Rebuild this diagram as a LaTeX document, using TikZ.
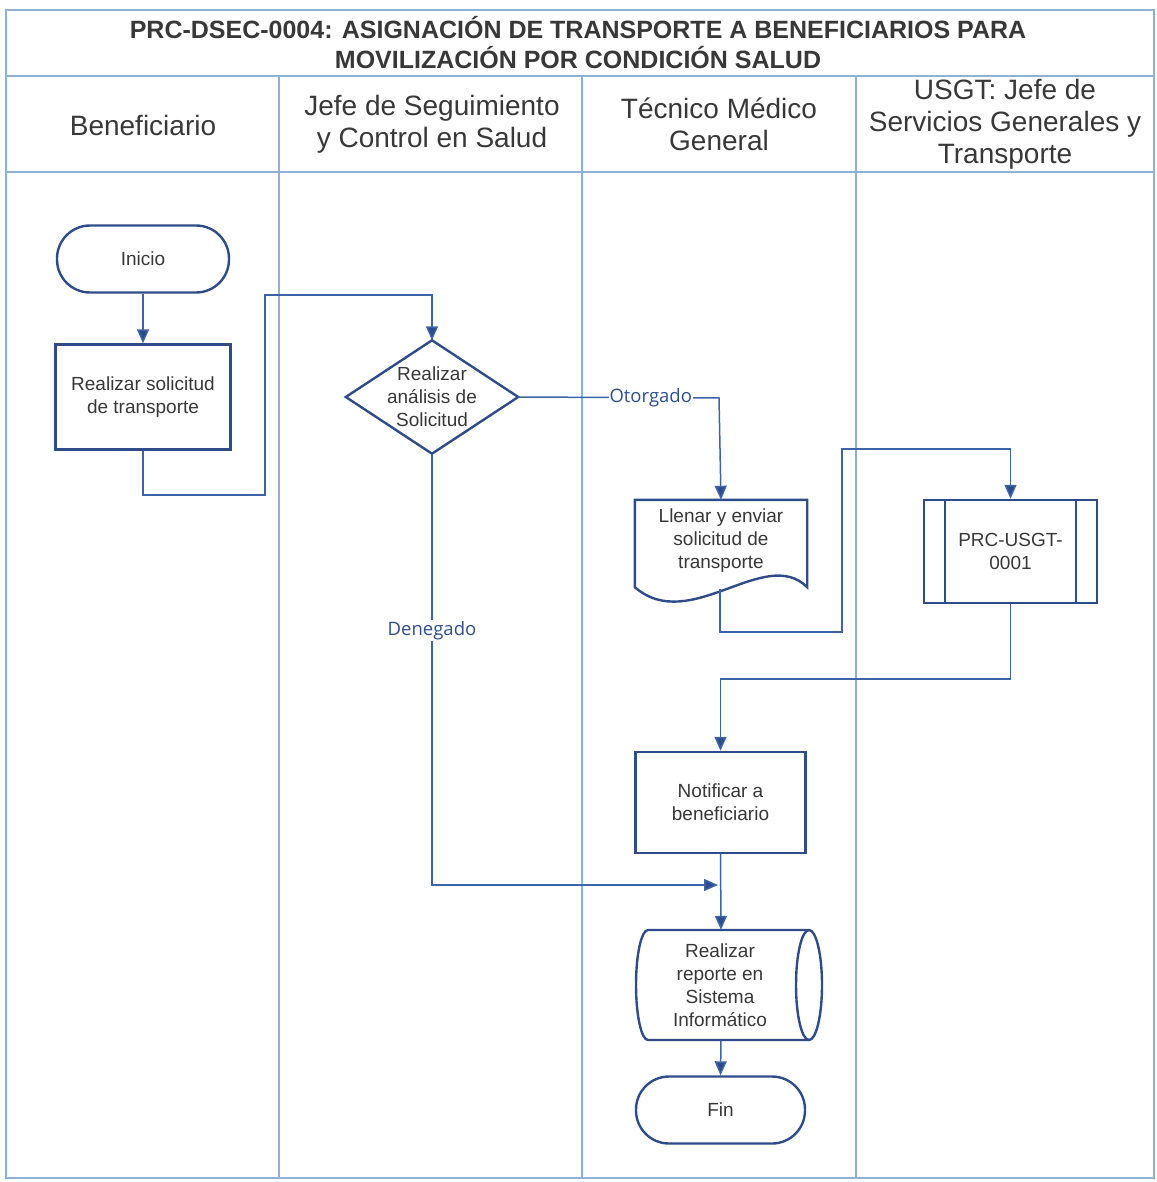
\documentclass[tikz,border=0pt]{standalone}
\usepackage{fontspec}
\setmainfont{Liberation Sans}
\newfontfamily\lblfont{Open Sans}
\usetikzlibrary{arrows.meta,calc}
\definecolor{navy}{HTML}{2E4C8A}
\definecolor{wire}{HTML}{3D64A8}
\definecolor{lanec}{HTML}{8DB2D3}
\definecolor{ink}{HTML}{383838}
\definecolor{lblc}{HTML}{2F4F8F}

\begin{document}
\begin{tikzpicture}[x=1pt,y=-1pt,
  lanes/.style={draw=lanec,line width=1.6pt},
  titletext/.style={align=center,text=ink,font=\bfseries\fontsize{25}{30}\selectfont},
  head/.style={align=center,text=ink,font=\fontsize{28}{32}\selectfont},
  txt/.style={align=center,text=ink,font=\fontsize{19}{23}\selectfont,inner sep=0pt},
  outline/.style={draw=navy,line width=2.4pt,line join=miter},
  proc/.style={txt,outline,fill=white,minimum width=175pt,minimum height=105pt},
  term/.style={txt,outline,fill=white,rounded corners=33pt,minimum width=172pt,minimum height=67pt},
  flow/.style={draw=wire,line width=1.5pt,-{Triangle[length=14pt,width=12pt,fill=navy]}},
  lbl/.style={fill=white,text=lblc,font=\lblfont\fontsize{18.5}{22}\selectfont,inner sep=1pt}
]
\useasboundingbox (0,0) rectangle (1156,1182);
\fill[white] (0,0) rectangle (1156,1182);

% swimlane frame
\draw[lanes] (6,10) rectangle (1154,1178);
\draw[lanes] (6,76) -- (1154,76);
\draw[lanes] (6,172) -- (1154,172);
\draw[lanes] (279,76) -- (279,1178);
\draw[lanes] (582,76) -- (582,1178);
\draw[lanes] (856,76) -- (856,1178);

% title and lane headers
\node[titletext] (title) at (578,43) {PRC-DSEC-0004: ASIGNACIÓN DE TRANSPORTE A BENEFICIARIOS PARA\\MOVILIZACIÓN POR CONDICIÓN SALUD};
\node[head] (h1) at (143,125) {Beneficiario};
\node[head] (h2) at (432,124) {Jefe de Seguimiento\\y Control en Salud};
\node[head] (h3) at (719,124) {Técnico Médico\\General};
\node[head] (h4) at (1005,124) {USGT: Jefe de\\Servicios Generales y\\Transporte};

% process steps
\node[term] (inicio) at (143,259) {Inicio};
\node[proc] (solic) at (143,397) {Realizar solicitud\\de transporte};

% decision
\node[txt,minimum width=172pt,minimum height=113pt] (dia) at (432,397) {Realizar\\análisis de\\Solicitud};
\draw[outline] (dia.north) -- (dia.east) -- (dia.south) -- (dia.west) -- cycle;

% document shape
\node[txt,minimum width=172pt,minimum height=87pt] (doc) at (721,543.5) {};
\draw[outline,fill=white] (doc.south west) -- (doc.north west) -- (doc.north east) -- (doc.south east)
  .. controls (765,545) and (690,635) .. (doc.south west) -- cycle;
\node[txt] at (721,541) {Llenar y enviar\\solicitud de\\transporte};
\coordinate (docout) at (720,589);

% predefined process
\node[txt,outline,fill=white,minimum width=173pt,minimum height=103pt] (prc) at (1010.5,551.5) {PRC-USGT-\\0001};
\draw[outline] ([xshift=22pt]prc.north west) -- ([xshift=22pt]prc.south west);
\draw[outline] ([xshift=-22pt]prc.north east) -- ([xshift=-22pt]prc.south east);

\node[proc,minimum width=170pt,minimum height=101pt] (notif) at (720.5,802.5) {Notificar a\\beneficiario};

% stored data (direct access) shape
\node[txt,minimum width=172pt,minimum height=110pt] (rep) at (721,985) {};
\draw[outline,fill=white] (648,930) -- (809,930)
  arc[start angle=90,end angle=-90,x radius=13pt,y radius=55pt] -- (648,1040)
  arc[start angle=270,end angle=90,x radius=12pt,y radius=55pt] -- cycle;
\draw[outline] (809,930) arc[start angle=90,end angle=270,x radius=13pt,y radius=55pt];
\node[txt] at (720,985) {Realizar\\reporte en\\Sistema\\Informático};

\node[term,minimum width=169pt] (fin) at (720.5,1110) {Fin};

% bend points of the connectors
\coordinate (b1) at (265,495);
\coordinate (b2) at (432,295);
\coordinate (b3) at (719,398);
\coordinate (b4) at (432,885);
\coordinate (b5) at (718,885);
\coordinate (b6) at (842,632);
\coordinate (b7) at (1010.5,449);
\coordinate (b8) at (720.5,679);

% connectors
\draw[flow] (inicio.south) -- (solic.north);
\draw[flow] (solic.south) |- (b1) |- (b2) -- (dia.north);
\draw[flow] (dia.east) -- node[lbl,pos=0.66]{Otorgado} (b3) -- (doc.north);
\draw[flow] (dia.south) -- node[lbl,pos=0.41]{Denegado} (b4) -- (b5);
\draw[flow] (docout) |- (b6) |- (b7) -- (prc.north);
\draw[flow] (prc.south) |- (b8) -- (notif.north);
\draw[flow] (notif.south) -- (rep.north);
\draw[flow] (rep.south) -- (fin.north);
\end{tikzpicture}
\end{document}
